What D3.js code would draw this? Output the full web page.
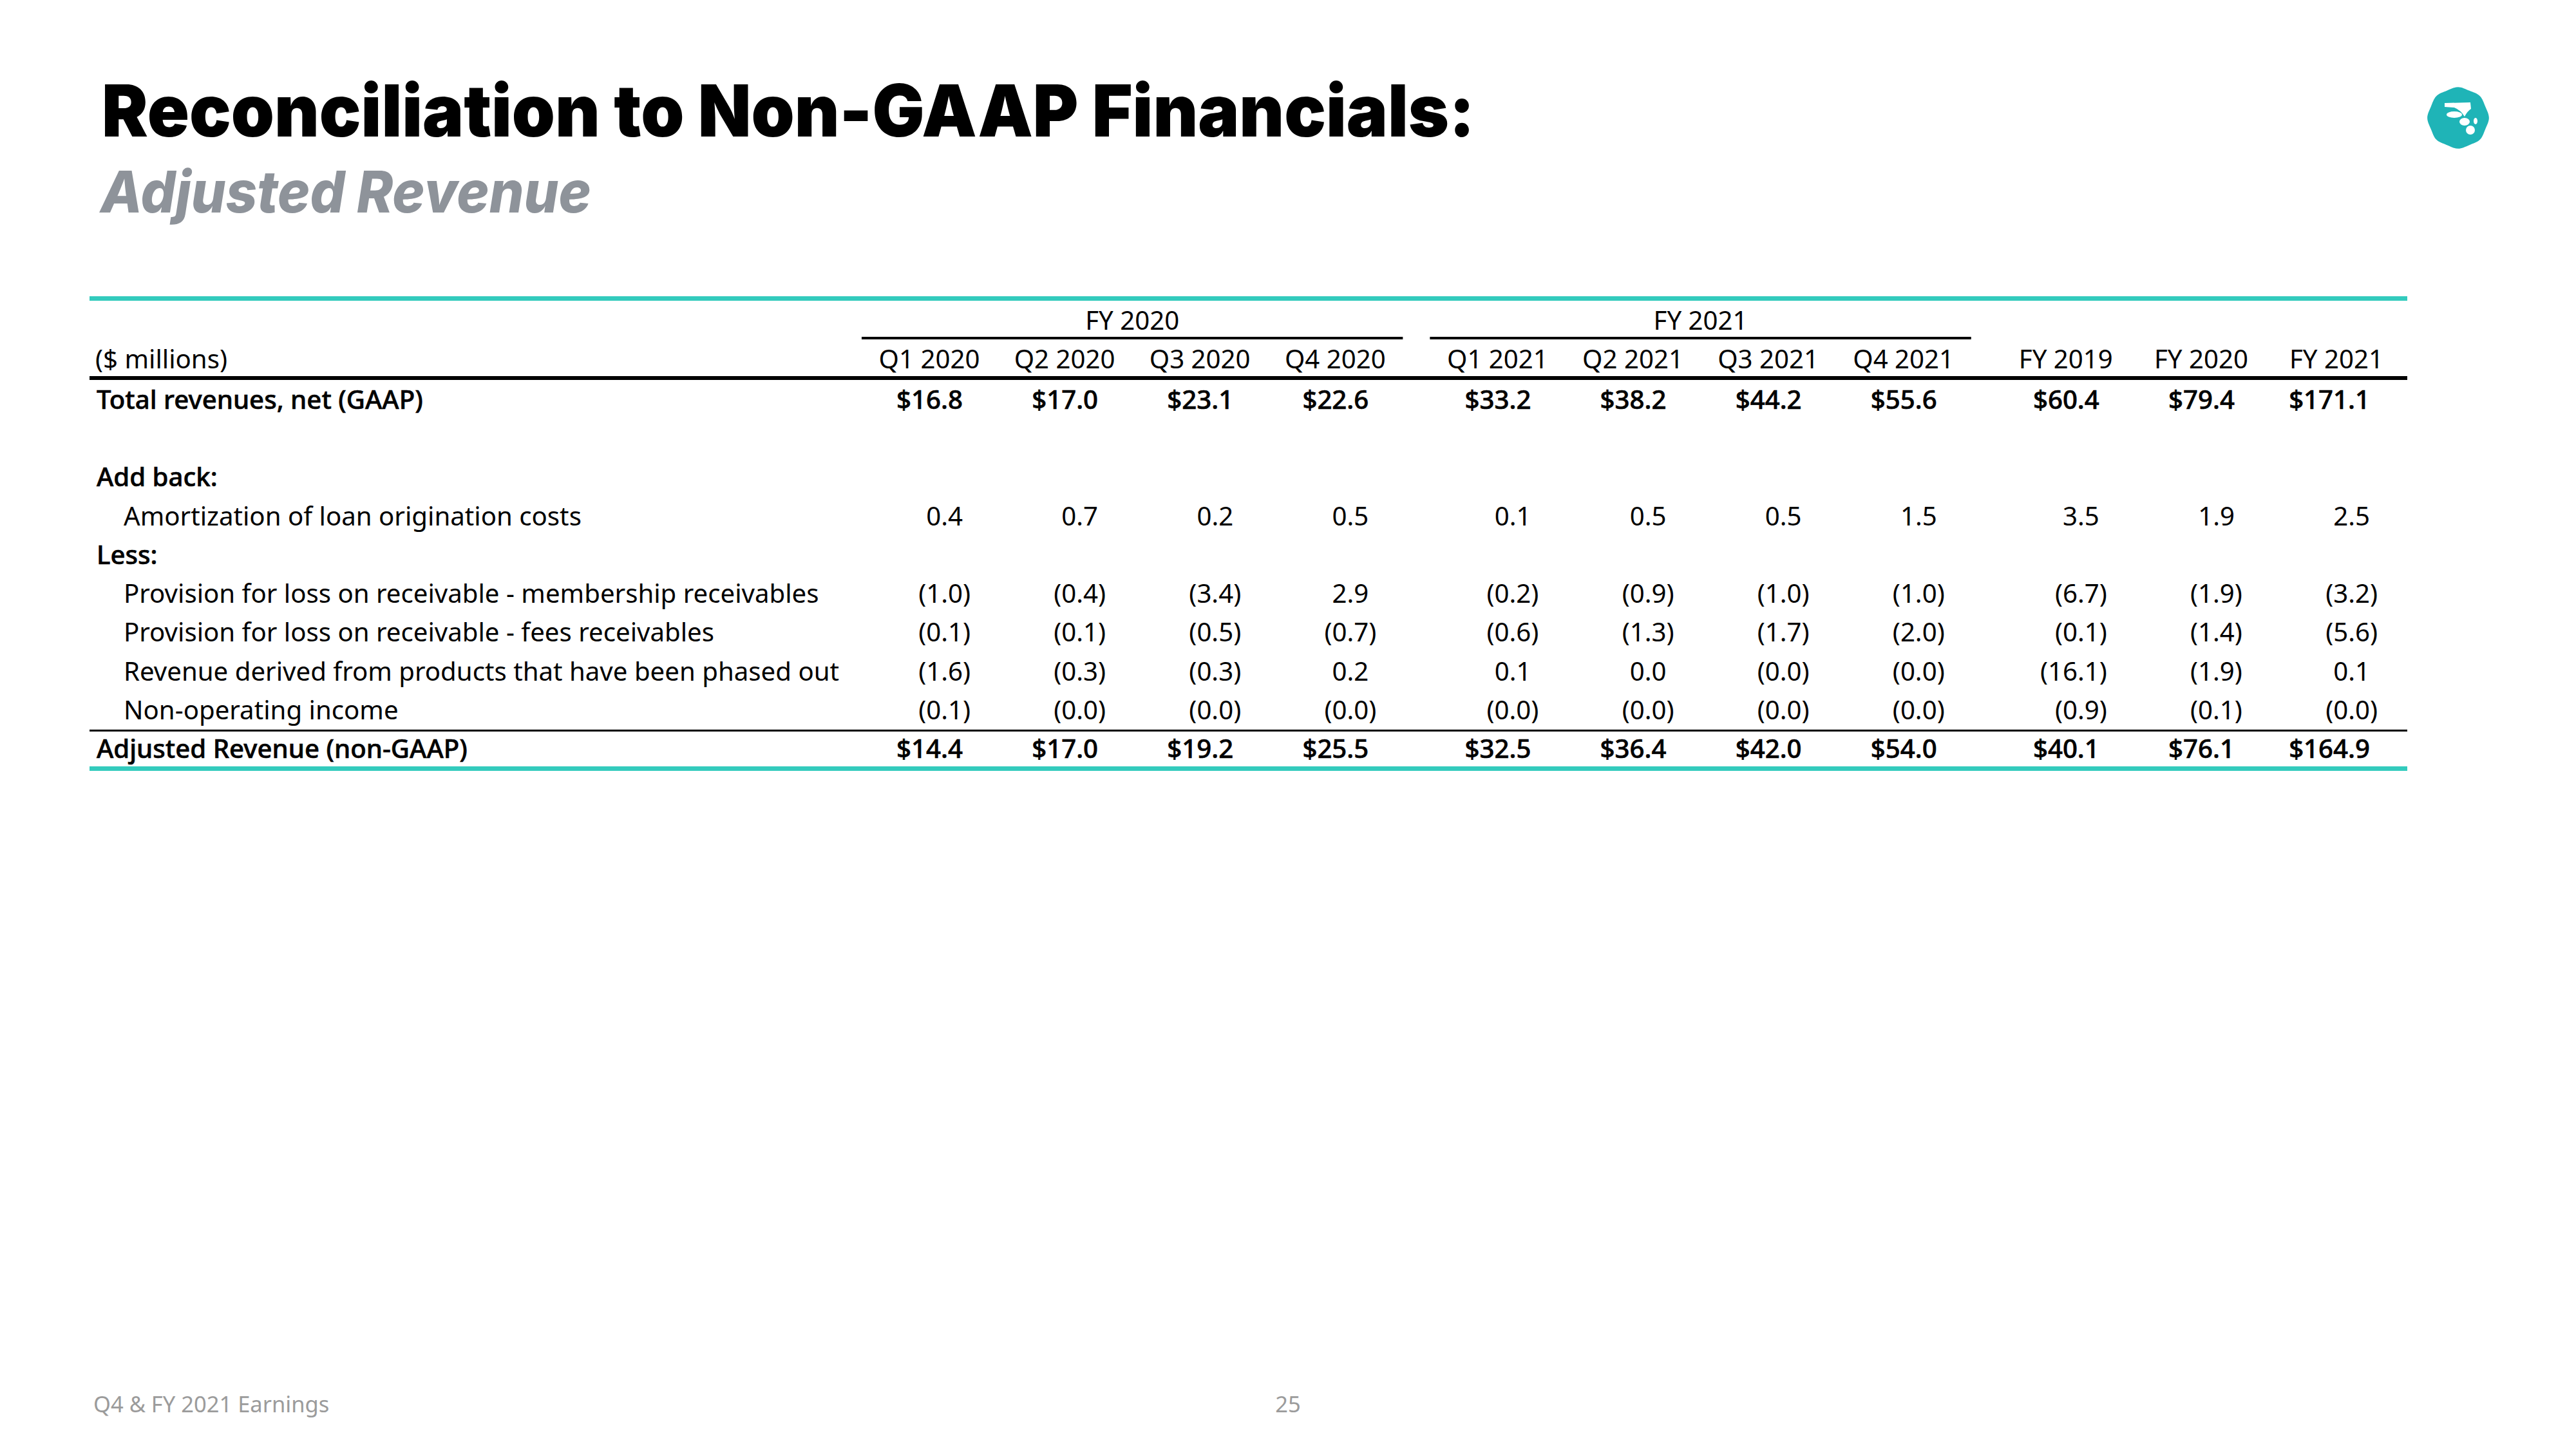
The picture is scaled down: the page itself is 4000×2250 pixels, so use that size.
<!DOCTYPE html>
<html>
<head>
<meta charset="utf-8">
<script src="https://cdn.jsdelivr.net/npm/d3@7"></script>
<style>
  body { margin: 0; background: #fff; }
  svg { display: block; }
</style>
</head>
<body>
<svg id="chart" width="4000" height="2250"></svg>
<script>
// column headers
const groups = ["FY 2020", "FY 2021"];
const columns = ["Q1 2020", "Q2 2020", "Q3 2020", "Q4 2020",
                 "Q1 2021", "Q2 2021", "Q3 2021", "Q4 2021",
                 "FY 2019", "FY 2020", "FY 2021"];
const columnGroup = [0, 0, 0, 0, 1, 1, 1, 1, 2, 2, 2];

// values ($ millions); -0.0 is shown as (0.0)
const totalRevenue   = [16.8, 17.0, 23.1, 22.6, 33.2, 38.2, 44.2, 55.6, 60.4, 79.4, 171.1];
const amortization   = [0.4, 0.7, 0.2, 0.5, 0.1, 0.5, 0.5, 1.5, 3.5, 1.9, 2.5];
const provMembership = [-1.0, -0.4, -3.4, 2.9, -0.2, -0.9, -1.0, -1.0, -6.7, -1.9, -3.2];
const provFees       = [-0.1, -0.1, -0.5, -0.7, -0.6, -1.3, -1.7, -2.0, -0.1, -1.4, -5.6];
const phasedOut      = [-1.6, -0.3, -0.3, 0.2, 0.1, 0.0, -0.0, -0.0, -16.1, -1.9, 0.1];
const nonOperating   = [-0.1, -0.0, -0.0, -0.0, -0.0, -0.0, -0.0, -0.0, -0.9, -0.1, -0.0];
const adjustedRev    = [14.4, 17.0, 19.2, 25.5, 32.5, 36.4, 42.0, 54.0, 40.1, 76.1, 164.9];

const rows = [
  {label: "Total revenues, net (GAAP)", values: totalRevenue, bold: true, dollar: true},
  {label: "", values: null},
  {label: "Add back:", values: null, bold: true},
  {label: "Amortization of loan origination costs", values: amortization, indent: true},
  {label: "Less:", values: null, bold: true},
  {label: "Provision for loss on receivable - membership receivables", values: provMembership, indent: true},
  {label: "Provision for loss on receivable - fees receivables", values: provFees, indent: true},
  {label: "Revenue derived from products that have been phased out", values: phasedOut, indent: true},
  {label: "Non-operating income", values: nonOperating, indent: true},
  {label: "Adjusted Revenue (non-GAAP)", values: adjustedRev, bold: true, dollar: true}
];

const teal = "#33cbbd";
const font = "'Noto Sans', Lato, sans-serif";
const fs = 40.2;
const svg = d3.select("#chart");

// title
svg.append("text")
  .attr("x", 158).attr("y", 212)
  .attr("font-family", "Inter, Roboto, sans-serif")
  .attr("font-weight", 900)
  .attr("font-size", 112)
  .attr("textLength", 2132)
  .attr("lengthAdjust", "spacingAndGlyphs")
  .attr("fill", "#000")
  .text("Reconciliation to Non-GAAP Financials:");

svg.append("text")
  .attr("x", 156).attr("y", 330)
  .attr("font-family", "Inter, Roboto, sans-serif")
  .attr("font-weight", 800)
  .attr("font-style", "italic")
  .attr("font-size", 90)
  .attr("textLength", 762)
  .attr("lengthAdjust", "spacingAndGlyphs")
  .attr("fill", "#8e939a")
  .text("Adjusted Revenue");

// logo badge
const logo = svg.append("g").attr("transform", "translate(3817,183)");
const bumps = d3.range(16).map(i => [i * Math.PI / 8, i % 2 ? 45 : 51]);
logo.append("path")
  .attr("d", d3.lineRadial().curve(d3.curveBasisClosed)(bumps))
  .attr("fill", "#1fb4b7");
logo.append("path")
  .attr("d", "M-21,-23 L19,-24 L20,-14 Q14,-10 10,-2 Q4,-12 -6,-16 L-21,-17 Z")
  .attr("fill", "#fff");
logo.append("ellipse").attr("cx", -6).attr("cy", -5).attr("rx", 12).attr("ry", 5).attr("fill", "#fff");
logo.append("ellipse").attr("cx", 10).attr("cy", 6).attr("rx", 8).attr("ry", 6).attr("fill", "#fff");
logo.append("ellipse").attr("cx", 27).attr("cy", 5).attr("rx", 3).attr("ry", 5).attr("fill", "#fff");
logo.append("ellipse").attr("cx", 19).attr("cy", 19).attr("rx", 7).attr("ry", 7).attr("fill", "#fff");

// layout scales
const slot = columns.map((c, i) => i + 0.2 * columnGroup[i]);
const x = d3.scaleLinear().domain([0, slot[slot.length - 1]]).range([1443, 3628]);
const band = x(1) - x(0);
const y = d3.scaleLinear().domain([0, rows.length - 1]).range([635, 1177]);
const left = 139, right = 3738;

// top teal rule
svg.append("rect").attr("x", left).attr("y", 460).attr("width", right - left).attr("height", 7).attr("fill", teal);

// group headers
groups.forEach((g, gi) => {
  const idx = columns.map((c, i) => i).filter(i => columnGroup[i] === gi);
  const x0 = x(slot[idx[0]]) - band / 2, x1 = x(slot[idx[idx.length - 1]]) + band / 2;
  svg.append("text")
    .attr("x", (x0 + x1) / 2).attr("y", 512)
    .attr("text-anchor", "middle")
    .attr("font-family", font).attr("font-size", fs)
    .text(g);
  svg.append("rect").attr("x", x0).attr("y", 523).attr("width", x1 - x0).attr("height", 4).attr("fill", "#000");
});

// column headers
svg.append("text")
  .attr("x", 148).attr("y", 572)
  .attr("font-family", font).attr("font-size", fs)
  .text("($ millions)");
svg.selectAll("text.colhead")
  .data(columns)
  .join("text")
  .attr("class", "colhead")
  .attr("x", (d, i) => x(slot[i])).attr("y", 572)
  .attr("text-anchor", "middle")
  .attr("font-family", font).attr("font-size", fs)
  .text(d => d);

svg.append("rect").attr("x", left).attr("y", 584).attr("width", right - left).attr("height", 6).attr("fill", "#000");

// rows
const fmt = d3.format(".1f");
function cell(v, dollar) {
  const neg = v < 0 || Object.is(v, -0);
  const s = fmt(Math.abs(v));
  return neg ? "(" + s + ")" : (dollar ? "$" + s : s);
}

rows.forEach((r, ri) => {
  if (!r.label) return;
  svg.append("text")
    .attr("x", r.indent ? 192 : 150).attr("y", y(ri))
    .attr("font-family", font).attr("font-size", fs)
    .attr("font-weight", r.bold ? 500 : 400)
    .attr("stroke", r.bold ? "#000" : "none").attr("stroke-width", 0.6)
    .text(r.label);
  if (!r.values) return;
  r.values.forEach((v, ci) => {
    const neg = v < 0 || Object.is(v, -0);
    svg.append("text")
      .attr("x", x(slot[ci]) + 52 + (neg ? 12 : 0)).attr("y", y(ri))
      .attr("text-anchor", "end")
      .attr("font-family", font).attr("font-size", fs)
      .attr("font-weight", r.bold ? 500 : 400)
      .attr("stroke", r.bold ? "#000" : "none").attr("stroke-width", 0.6)
      .text(cell(v, r.dollar));
  });
});

// rules around the adjusted row
svg.append("rect").attr("x", left).attr("y", (y(8) + y(9)) / 2 - 14).attr("width", right - left).attr("height", 3).attr("fill", "#000");
svg.append("rect").attr("x", left).attr("y", y(9) + 13).attr("width", right - left).attr("height", 7).attr("fill", teal);

// footer
svg.append("text")
  .attr("x", 145).attr("y", 2193)
  .attr("font-family", font).attr("font-size", 34.5)
  .attr("fill", "#9b9b9b")
  .text("Q4 & FY 2021 Earnings");
svg.append("text")
  .attr("x", 2000).attr("y", 2193)
  .attr("text-anchor", "middle")
  .attr("font-family", font).attr("font-size", 34.5)
  .attr("fill", "#9b9b9b")
  .text("25");
</script>
</body>
</html>
